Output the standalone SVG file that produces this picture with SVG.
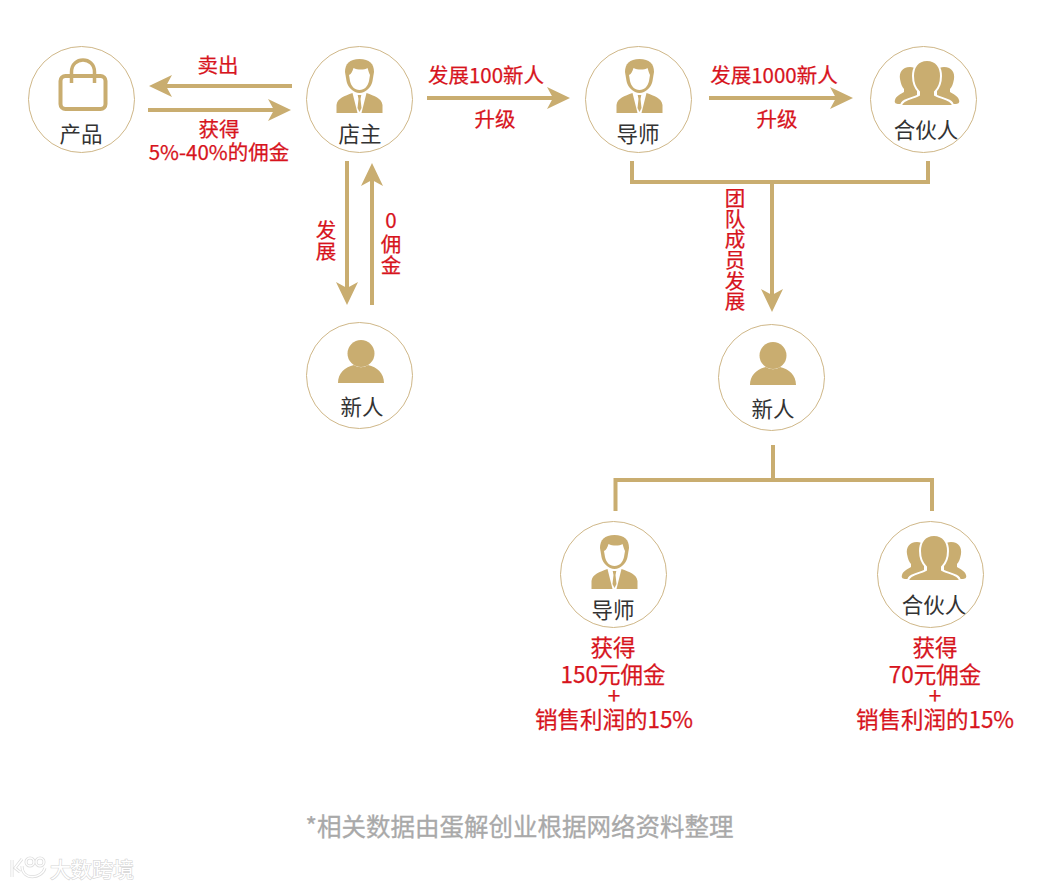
<svg xmlns="http://www.w3.org/2000/svg" width="1039" height="888" viewBox="0 0 1039 888">
<style>
text{font-family:"Noto Sans CJK SC","Noto Sans",sans-serif}
.ring{fill:#fff;stroke:#cfb788;stroke-width:1}
.ico{fill:#c9ad70}
.name{font-size:21.500px;fill:#333;text-anchor:middle}
.red{font-size:20.500px;fill:#d7141d;stroke:#d7141d;stroke-width:.25;text-anchor:middle}
.big{font-size:22.500px}
.line{fill:none;stroke:#c9ad70;stroke-width:4}
.head{fill:#c9ad70}
</style>
<defs>
<symbol id="man" overflow="visible">
<path class="ico" d="M0,-39C-10,-39 -14.500,-34 -14.500,-26L-13,-17C-12,-11 -6,-5 0,-5C6,-5 12,-11 13,-17L14.500,-26C14.500,-34 10,-39 0,-39Z"/>
<path fill="#fff" d="M-10.500,-23C-8,-24 -7,-27 -6,-30C-2,-28 5,-28 8,-30C9,-27 9.500,-25 10.500,-23L9.500,-17C8.500,-12 5,-8 0,-8C-5,-8 -8.500,-12 -9.500,-17Z"/>
<path class="ico" d="M-23,15L-23,7C-22,0 -15,-2 -7,-5L-2,15ZM23,15L23,7C22,0 15,-2 7,-5L2,15ZM-1.800,-3L1.800,-3L1,1L2,10L0,14L-2,10L-1,1Z"/>
</symbol>
<symbol id="group" overflow="visible">
<path class="ico" d="M-17,-30C-25,-30 -28,-24 -27,-18C-26,-13 -25,-10 -23,-8L-23,-5C-26,-3 -31,-1 -32,3C-33,6 -31,7 -28,7L-10,7L-10,-20L-10,-27C-12,-29 -14,-30 -17,-30Z"/>
<path class="ico" d="M17,-30C25,-30 28,-24 27,-18C26,-13 25,-10 23,-8L23,-5C26,-3 31,-1 32,3C33,6 31,7 28,7L10,7L10,-20L10,-27C12,-29 14,-30 17,-30Z"/>
<path class="ico" stroke="#fff" stroke-width="2" d="M0,-37C-10,-37 -14,-29 -14,-21C-14,-14 -11,-8 -8,-5L-8,-2C-12,1 -26,2 -26,9L26,9C26,2 12,1 8,-2L8,-5C11,-8 14,-14 14,-21C14,-29 10,-37 0,-37Z"/>
</symbol>
<symbol id="person" overflow="visible">
<path class="ico" d="M-23,8C-23,-2 -16,-8 -7,-10C-3,-7 3,-7 7,-10C16,-8 23,-2 23,8Z"/>
<circle class="ico" cx="0" cy="-21.500" r="13.500"/>
</symbol>
</defs>
<g id="connectors">
<path class="line" d="M292,86H160"/><path class="head" d="M149,86L172,75L166,86L172,97Z"/>
<path class="line" d="M148,110H280"/><path class="head" d="M291,110L268,99L274,110L268,121Z"/>
<path class="line" d="M427,98H558"/><path class="head" d="M570,98L547,87L553,98L547,109Z"/>
<path class="line" d="M709,98H841"/><path class="head" d="M853,98L830,87L836,98L830,109Z"/>
<path class="line" d="M347,161V293"/><path class="head" d="M347,305L336,282L347,288L358,282Z"/>
<path class="line" d="M372,305V175"/><path class="head" d="M372,163L361,186L372,180L383,186Z"/>
<path class="line" d="M632,161V182H928V161M772,182V300"/><path class="head" d="M772,312L761,289L772,295L783,289Z"/>
<path class="line" d="M773,445V480M615.500,511V480H932V511"/>
</g>
<g id="node-product"><circle class="ring" cx="81.500" cy="99.500" r="53"/>
<rect x="60.500" y="76" width="45" height="33" rx="5" fill="none" stroke="#c9ad70" stroke-width="4"/>
<path d="M71.500,83V72C71.500,56 94.500,56 94.500,72V83" fill="none" stroke="#c9ad70" stroke-width="3.500"/>
<text class="name" x="81" y="142">产品</text></g>
<g id="node-owner"><circle class="ring" cx="359.500" cy="99.500" r="53"/><use href="#man" x="359.500" y="98"/><text class="name" x="360" y="142">店主</text></g>
<g id="node-mentor"><circle class="ring" cx="638.500" cy="99.500" r="53"/><use href="#man" x="639.500" y="98"/><text class="name" x="638" y="142">导师</text></g>
<g id="node-partner"><circle class="ring" cx="923.500" cy="99.500" r="53"/><use href="#group" x="927" y="97"/><text class="name" x="926" y="138">合伙人</text></g>
<g id="node-new1"><circle class="ring" cx="359.500" cy="375.500" r="53"/><use href="#person" x="361" y="375"/><text class="name" x="362" y="415">新人</text></g>
<g id="node-new2"><circle class="ring" cx="771.500" cy="377.500" r="53"/><use href="#person" x="773" y="377"/><text class="name" x="773" y="417">新人</text></g>
<g id="node-mentor2"><circle class="ring" cx="613.500" cy="574.500" r="53"/><use href="#man" x="614.500" y="574"/><text class="name" x="613" y="618">导师</text></g>
<g id="node-partner2"><circle class="ring" cx="930.500" cy="574.500" r="53"/><use href="#group" x="934" y="572"/><text class="name" x="934" y="613">合伙人</text></g>
<g id="labels">
<text class="red" x="218" y="73">卖出</text>
<text class="red" x="219" y="137">获得</text>
<text class="red" x="219" y="160">5%-40%的佣金</text>
<text class="red" x="486" y="83">发展100新人</text>
<text class="red" x="495" y="127">升级</text>
<text class="red" x="774" y="83">发展1000新人</text>
<text class="red" x="777" y="127">升级</text>
<text class="red" x="326" y="238">发</text><text class="red" x="326" y="259">展</text>
<text class="red" x="391" y="228">0</text><text class="red" x="391" y="252">佣</text><text class="red" x="391" y="273">金</text>
<text class="red" x="735" y="206">团</text><text class="red" x="735" y="227">队</text><text class="red" x="735" y="247">成</text><text class="red" x="735" y="268">员</text><text class="red" x="735" y="289">发</text><text class="red" x="735" y="309">展</text>
<text class="red big" x="613" y="656">获得</text>
<text class="red big" x="613" y="683">150元佣金</text>
<text class="red big" x="614" y="704">+</text>
<text class="red big" x="614" y="728">销售利润的15%</text>
<text class="red big" x="935" y="656">获得</text>
<text class="red big" x="935" y="683">70元佣金</text>
<text class="red big" x="935" y="704">+</text>
<text class="red big" x="935" y="728">销售利润的15%</text>
<text x="519.500" y="836" text-anchor="middle" style="font-size:24.500px;fill:#a9a9a9;stroke:#a9a9a9;stroke-width:.3">*相关数据由蛋解创业根据网络资料整理</text>
</g>
<g id="watermark">
<g fill="none" stroke="#ddd" stroke-width="3"><path d="M12,860V877M22,859L15,868L20,872"/><path d="M22,866C22,881 42,879 45,868"/><circle cx="30" cy="862" r="4"/><circle cx="40" cy="862" r="4"/></g>
<g fill="none" stroke="#fff" stroke-width="1.500"><path d="M12,860V877M22,859L15,868L20,872"/><path d="M22,866C22,881 42,879 45,868"/><circle cx="30" cy="862" r="4"/><circle cx="40" cy="862" r="4"/></g>
<text x="50" y="877" style="font-size:21px;fill:#fff;stroke:#d5d5d5;stroke-width:1.200;paint-order:stroke">大数跨境</text>
</g>
</svg>
